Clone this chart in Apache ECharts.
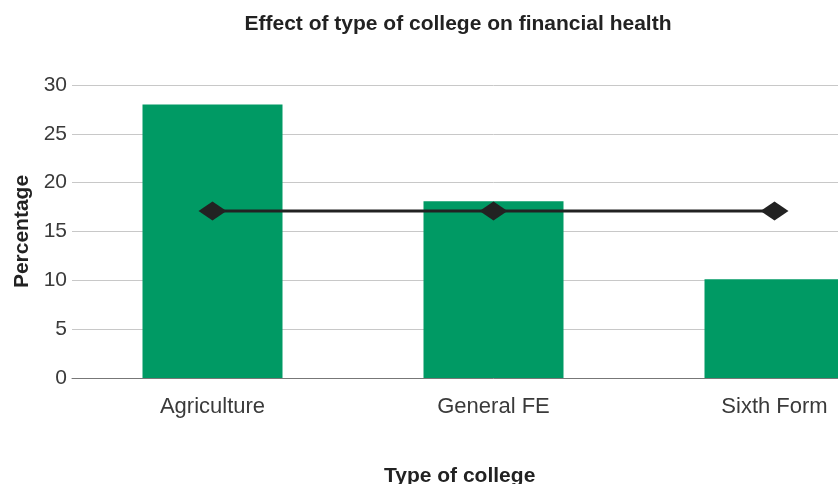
<!DOCTYPE html>
<html>
<head>
<meta charset="utf-8">
<script src="https://cdn.jsdelivr.net/npm/echarts@6/dist/echarts.min.js"></script>
<style>
  html, body { margin: 0; padding: 0; background: #fff; overflow: hidden; }
  /* the chart is wider than the window, so the last bar runs off the right edge */
  #chart { width: 916px; height: 484px; }
</style>
</head>
<body>
<div id="chart"></div>
<script>
// College types and the share of each in weak financial health
const categories = ['Agriculture', 'General FE', 'Sixth Form'];
const collegeValues = [28, 18.1, 10.1];
const averageValues = [17.1, 17.1, 17.1];
const yTicks = { min: 0, max: 30, interval: 5 };

const font = 'Liberation Sans, Arial, Helvetica, sans-serif';
const chart = echarts.init(document.getElementById('chart'), null, { renderer: 'canvas' });

chart.setOption({
  animation: false,
  backgroundColor: '#ffffff',
  title: {
    text: 'Effect of type of college on financial health',
    left: 453,
    textAlign: 'center',
    top: 9,
    textStyle: { fontFamily: font, fontSize: 21, fontWeight: 'bold', color: '#222' }
  },
  graphic: [{
    type: 'text',
    left: 384,
    top: 466,
    style: {
      text: 'Type of college',
      font: 'bold 21px ' + font,
      fill: '#222'
    }
  }],
  grid: { left: 72, right: 1, top: 85, bottom: 106, containLabel: false },
  xAxis: {
    type: 'category',
    data: categories,
    boundaryGap: true,
    axisLine: { show: true, lineStyle: { color: '#777', width: 1 } },
    axisTick: { show: false },
    axisLabel: { margin: 18, fontFamily: font, fontSize: 22, color: '#3a3a3a' }
  },
  yAxis: {
    type: 'value',
    min: yTicks.min,
    max: yTicks.max,
    interval: yTicks.interval,
    name: 'Percentage',
    nameLocation: 'middle',
    nameGap: 39,
    nameTextStyle: { fontFamily: font, fontSize: 21, fontWeight: 'bold', color: '#222' },
    axisLine: { show: false },
    axisTick: { show: false },
    axisLabel: { margin: 5, fontFamily: font, fontSize: 21, color: '#3a3a3a' },
    splitLine: { lineStyle: { color: '#c8c8c8', width: 1 } }
  },
  series: [
    {
      type: 'bar',
      data: collegeValues,
      barWidth: 140,
      itemStyle: { color: '#009a64' }
    },
    {
      type: 'line',
      data: averageValues,
      symbol: 'diamond',
      symbolSize: [28, 19],
      lineStyle: { color: '#222', width: 3 },
      itemStyle: { color: '#222' },
      z: 5
    }
  ]
});
</script>
</body>
</html>
